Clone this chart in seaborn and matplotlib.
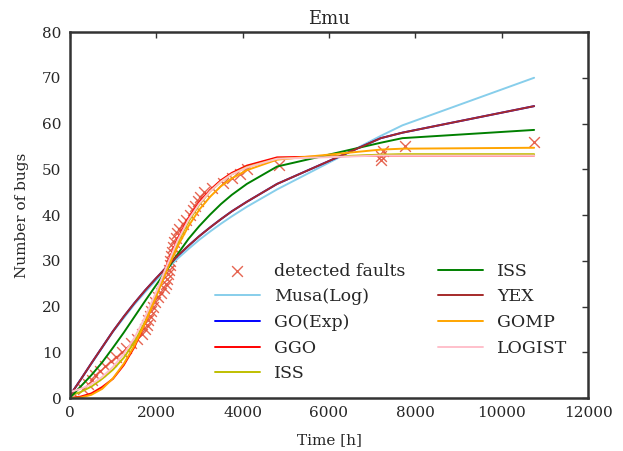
import matplotlib
matplotlib.use("Agg")
import matplotlib.pyplot as plt
import seaborn as sns

# detected faults (cumulative count vs. time)
fault_times = [80, 300, 420, 520, 580, 700, 810, 950, 1080, 1200,
               1300, 1420, 1550, 1680, 1750, 1790, 1820, 1850, 1880, 1920,
               1980, 2050, 2120, 2180, 2220, 2250, 2270, 2290, 2310, 2330,
               2350, 2370, 2390, 2420, 2450, 2480, 2540, 2620, 2700, 2780,
               2850, 2900, 2960, 3020, 3100, 3300, 3550, 3750, 3950, 4100,
               4850, 7200, 7200, 7250, 7750, 10750]
fault_counts = list(range(1, 57))

# model fits
fit_times = [0, 250, 500, 750, 1000, 1250, 1500, 1750, 2000, 2250, 2500,
             2750, 3000, 3250, 3500, 3750, 4100, 4800, 7200, 7700, 10750]
musa = [0.5, 4.0, 7.5, 11.0, 14.5, 17.5, 20.5, 23.2, 25.8, 28.2, 30.5,
        32.6, 34.6, 36.4, 38.1, 39.7, 41.8, 45.6, 57.3, 59.6, 70.0]
go_exp = [0.5, 4.0, 7.6, 11.1, 14.6, 17.8, 20.8, 23.6, 26.2, 28.7, 31.1,
          33.3, 35.4, 37.3, 39.1, 40.8, 42.9, 46.8, 56.8, 58.0, 63.8]
ggo = [0.0, 0.3, 1.0, 2.4, 4.2, 7.2, 11.2, 16.5, 22.8, 29.2, 34.8,
       39.3, 42.8, 45.5, 47.6, 49.2, 50.8, 52.6, 53.0, 53.0, 53.0]
iss_y = [0.5, 1.3, 2.5, 4.2, 6.2, 8.8, 12.3, 16.8, 22.3, 28.4, 34.0,
         38.6, 42.3, 45.2, 47.3, 48.9, 50.5, 52.3, 53.2, 53.3, 53.3]
iss_g = [0.0, 2.5, 5.0, 7.8, 11.0, 14.3, 17.8, 21.3, 24.7, 28.0, 31.5,
         34.8, 37.6, 40.1, 42.4, 44.4, 46.8, 50.6, 55.8, 56.8, 58.6]
yex = [0.5, 4.0, 7.6, 11.1, 14.6, 17.8, 20.8, 23.6, 26.2, 28.7, 31.1,
       33.3, 35.4, 37.3, 39.1, 40.8, 42.9, 46.8, 56.8, 58.0, 63.8]
gomp = [0.0, 0.1, 0.7, 2.0, 4.3, 7.5, 11.5, 16.5, 22.2, 28.0, 33.2,
        37.6, 41.2, 44.0, 46.3, 48.0, 49.8, 52.1, 54.3, 54.5, 54.7]
logist = [1.3, 2.0, 3.0, 4.6, 6.8, 9.6, 13.2, 17.8, 23.2, 29.0, 34.5,
          39.0, 42.5, 45.2, 47.3, 48.9, 50.4, 52.3, 53.0, 53.0, 53.0]

models = [
    ("Musa(Log)", musa, "skyblue"),
    ("GO(Exp)", go_exp, "blue"),
    ("GGO", ggo, "red"),
    ("ISS", iss_y, "y"),
    ("ISS", iss_g, "green"),
    ("YEX", yex, "brown"),
    ("GOMP", gomp, "orange"),
    ("LOGIST", logist, "pink"),
]

sns.set_style("white")
plt.rcParams["font.family"] = ["DejaVu Serif"]
plt.rcParams["axes.edgecolor"] = "#333333"
plt.rcParams["axes.linewidth"] = 1.8
plt.rcParams["xtick.direction"] = "in"
plt.rcParams["ytick.direction"] = "in"
plt.rcParams["xtick.top"] = True
plt.rcParams["ytick.right"] = True

fig = plt.figure(figsize=(6.23, 4.51), dpi=100)
ax = fig.add_axes([0.112, 0.1175, 0.832, 0.8115])

sns.scatterplot(x=fault_times, y=fault_counts, marker="x", s=60,
                color="#e24a33", alpha=0.85, linewidth=1.0,
                label="detected faults", ax=ax, zorder=1)
for name, vals, col in models:
    sns.lineplot(x=fit_times, y=vals, color=col, linewidth=1.4,
                 label=name, ax=ax, sort=False, estimator=None, zorder=2)

ax.set_xlim(0, 12000)
ax.set_ylim(0, 80)
ax.set_title("Emu", fontsize=13)
ax.set_xlabel("Time [h]", fontsize=11, labelpad=9)
ax.set_ylabel("Number of bugs", fontsize=11, labelpad=9)
ax.tick_params(labelsize=11, length=4, width=1, color="#333333", pad=6)

ax.legend(ncol=2, frameon=False, fontsize=12.5, loc="lower right",
          bbox_to_anchor=(0.99, 0.0), labelspacing=0.5, columnspacing=1.9,
          handlelength=2.6)

fig.savefig("out.png", dpi=100)
